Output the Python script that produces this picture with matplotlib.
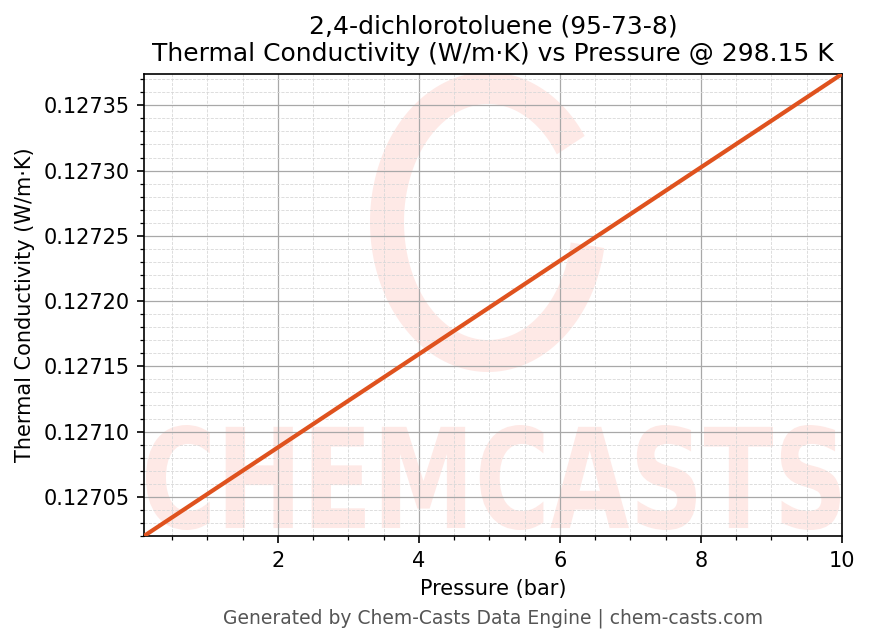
import numpy as np
import matplotlib
matplotlib.use("Agg")
import matplotlib.pyplot as plt
from matplotlib.ticker import AutoMinorLocator
from matplotlib.patches import PathPatch, Polygon
from matplotlib.textpath import TextPath
from matplotlib.font_manager import FontProperties
from matplotlib.transforms import Affine2D

# Data
pressure_bar = [0.1, 1.0, 2.0, 3.0, 4.0, 5.0, 6.0, 7.0, 8.0, 9.0, 10.0]
thermal_conductivity = [0.127020, 0.1270522, 0.1270879, 0.1271237, 0.1271594,
                        0.1271952, 0.1272310, 0.1272667, 0.1273025, 0.1273382, 0.127374]

title_text = "2,4-dichlorotoluene (95-73-8)\nThermal Conductivity (W/m·K) vs Pressure @ 298.15 K"
xlabel_text = "Pressure (bar)"
ylabel_text = "Thermal Conductivity (W/m·K)"
footer_text = "Generated by Chem-Casts Data Engine | chem-casts.com"

W, H, DPI = 869, 644, 150
fig = plt.figure(figsize=(W / DPI, H / DPI), dpi=DPI)
L, R, T, B = 144, 842, 74, 536
ax = fig.add_axes([L / W, (H - B) / H, (R - L) / W, (B - T) / H])

def to_ax(px, py):
    return ((np.asarray(px) - L) / (R - L), (B - np.asarray(py)) / (B - T))

wm_color = "#fee9e6"

# Watermark ring (logo)
cx, cy = 488, 222
rx_o, ry_o = 118, 150
rx_i, ry_i = 84, 118
th = np.radians(np.linspace(35, 350, 200))
ox = cx + rx_o * np.cos(th); oy = cy - ry_o * np.sin(th)
ix = cx + rx_i * np.cos(th[::-1]); iy = cy - ry_i * np.sin(th[::-1])
xs = np.concatenate([ox, ix]); ys = np.concatenate([oy, iy])
fx, fy = to_ax(xs, ys)
ax.add_patch(Polygon(np.column_stack([fx, fy]), closed=True, transform=ax.transAxes,
                     facecolor=wm_color, edgecolor="none", zorder=0.1))

# Watermark text
fp = FontProperties(family="DejaVu Sans", weight="bold")
tp = TextPath((0, 0), "CHEMCASTS", size=1, prop=fp)
ext = tp.get_extents()
x0, x1, y0, y1 = 146, 840, 425, 530
ax0, ay0 = to_ax(x0, y1)
ax1, ay1 = to_ax(x1, y0)
tr = Affine2D().translate(-ext.x0, -ext.y0).scale((ax1 - ax0) / ext.width, (ay1 - ay0) / ext.height).translate(ax0, ay0)
ax.add_patch(PathPatch(tr.transform_path(tp), transform=ax.transAxes,
                       facecolor=wm_color, edgecolor="none", zorder=0.1))

ax.plot(pressure_bar, thermal_conductivity, color="#df521e", lw=2, zorder=3)

ax.set_xlim(0.1, 10)
ax.set_ylim(0.12702, 0.127374)
ax.set_xticks([2, 4, 6, 8, 10])
ax.set_yticks([0.12705, 0.12710, 0.12715, 0.12720, 0.12725, 0.12730, 0.12735])
ax.yaxis.set_major_formatter(matplotlib.ticker.FormatStrFormatter("%.5f"))
ax.xaxis.set_minor_locator(AutoMinorLocator(4))
ax.yaxis.set_minor_locator(AutoMinorLocator(5))
ax.grid(which="major", color="#a8a8a8", lw=0.6, zorder=1)
ax.grid(which="minor", color="#d8d8d8", lw=0.4, ls="--", zorder=1)
ax.set_axisbelow(True)
ax.tick_params(labelsize=10)

ax.set_title(title_text, fontsize=12)
ax.set_xlabel(xlabel_text, fontsize=10)
ax.set_ylabel(ylabel_text, fontsize=10)
fig.text(493 / W, 1 - 618 / H, footer_text, ha="center", va="center", fontsize=9, color="#555555")

fig.savefig("out.png", dpi=DPI)
